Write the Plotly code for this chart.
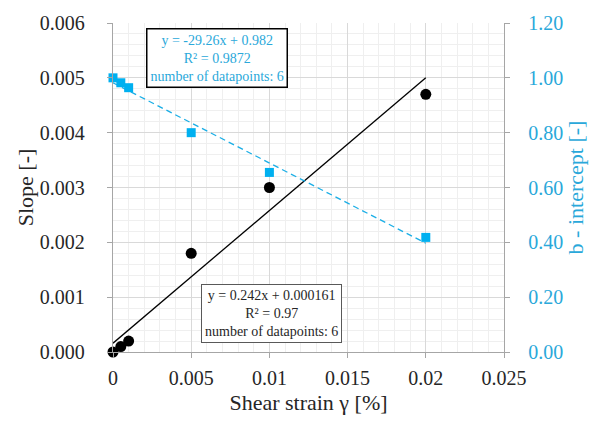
import plotly.graph_objects as go

# Data
strain = [0.0, 0.0005, 0.001, 0.005, 0.01, 0.02]
slope = [0.0, 0.0001, 0.0002, 0.0018, 0.0030, 0.0047]
intercept = [1.0, 0.982, 0.964, 0.80, 0.655, 0.418]

# Trend-line fit parameters (from the chart labels)
slope_fit_m, slope_fit_b = 0.242, 0.000161
int_fit_m, int_fit_b = -29.26, 0.982
fit_x = [0.0, 0.02]

BLUE = "#1aaee6"
BLUE_TXT = "#2aa8da"
DARK = "#262626"
FONT = "Liberation Serif"

fig = go.Figure()

fig.add_trace(go.Scatter(
    x=fit_x, y=[slope_fit_m * v + slope_fit_b for v in fit_x],
    mode="lines", line=dict(color="black", width=1.3), showlegend=False, hoverinfo="skip"))
fig.add_trace(go.Scatter(
    x=fit_x, y=[int_fit_m * v + int_fit_b for v in fit_x], yaxis="y2",
    mode="lines", line=dict(color=BLUE, width=1.3, dash="6px,4px"), showlegend=False, hoverinfo="skip"))
fig.add_trace(go.Scatter(
    x=strain, y=slope, mode="markers", cliponaxis=False,
    marker=dict(symbol="circle", size=11, color="black"), showlegend=False))
fig.add_trace(go.Scatter(
    x=strain, y=intercept, mode="markers", yaxis="y2", cliponaxis=False,
    marker=dict(symbol="square", size=9, color="#00b0f0"), showlegend=False))

fig.update_layout(
    width=595, height=428,
    margin=dict(l=113, r=90, t=16, b=76),
    paper_bgcolor="white", plot_bgcolor="white",
    font=dict(family=FONT, size=20, color=DARK),
    showlegend=False,
    xaxis=dict(
        range=[0, 0.025], dtick=0.005, tick0=0,
        showgrid=True, gridcolor="#d9d9d9", gridwidth=1,
        minor=dict(dtick=0.001, showgrid=True, gridcolor="#efefef", gridwidth=1),
        showline=True, linecolor="#a6a6a6", linewidth=1.3,
        ticks="outside", ticklen=5, tickcolor="#a6a6a6",
        ticklabelstandoff=3,
        tickfont=dict(family=FONT, size=20, color=DARK),
        zeroline=False,
        title=dict(text="Shear strain γ [%]", font=dict(family=FONT, size=22, color=DARK), standoff=6),
    ),
    yaxis=dict(
        range=[0, 0.006], dtick=0.001, tickformat=".3f",
        showgrid=True, gridcolor="#d9d9d9", gridwidth=1,
        minor=dict(dtick=0.0002, showgrid=True, gridcolor="#efefef", gridwidth=1),
        showline=True, linecolor="#a6a6a6", linewidth=1.3,
        ticks="outside", ticklen=5, tickcolor="#a6a6a6",
        ticklabelstandoff=18,
        tickfont=dict(family=FONT, size=20, color=DARK),
        zeroline=False,
        title=dict(text="Slope [-]", font=dict(family=FONT, size=22, color=DARK), standoff=0),
    ),
    yaxis2=dict(
        range=[0, 1.2], dtick=0.2, tickformat=".2f",
        overlaying="y", side="right",
        showgrid=False, zeroline=False,
        showline=True, linecolor="#a6a6a6", linewidth=1.3,
        ticks="outside", ticklen=5, tickcolor="#a6a6a6",
        ticklabelstandoff=14,
        tickfont=dict(family=FONT, color=BLUE_TXT, size=20),
        title=dict(text="b - intercept [-]", font=dict(family=FONT, size=22, color=BLUE_TXT), standoff=4),
    ),
    annotations=[
        dict(xref="paper", yref="paper", x=0.2666, y=0.894, xanchor="center", yanchor="middle",
             text="y = -29.26x + 0.982<br>R² = 0.9872<br>number of datapoints: 6",
             showarrow=False, align="center",
             font=dict(family=FONT, size=14, color=BLUE_TXT),
             bgcolor="white", bordercolor="black", borderwidth=1.5, borderpad=3),
        dict(xref="paper", yref="paper", x=0.4056, y=0.1176, xanchor="center", yanchor="middle",
             text="y = 0.242x + 0.000161<br>R² = 0.97<br>number of datapoints: 6",
             showarrow=False, align="center",
             font=dict(family=FONT, size=14, color=DARK),
             bgcolor="white", bordercolor="#595959", borderwidth=1, borderpad=3),
    ],
)

fig.write_html("out.html")
